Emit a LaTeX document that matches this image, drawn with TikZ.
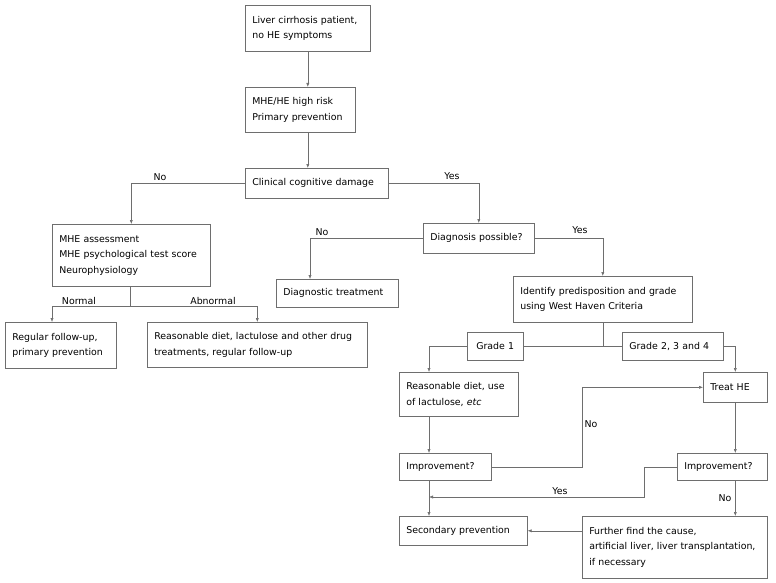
\documentclass[tikz,border=0pt]{standalone}
\usepackage{fontspec}
\setmainfont{DejaVu Sans}
\usetikzlibrary{arrows.meta}

\definecolor{linegray}{RGB}{110,110,110}

\tikzset{
    box/.style={draw=linegray, line width=0.6pt, anchor=north west, align=left,
        inner xsep=7pt, inner ysep=2pt, font=\fontsize{9.4}{15.5}\selectfont},
    lbl/.style={font=\fontsize{9.4}{11}\selectfont, inner sep=0pt},
    link/.style={draw=linegray, line width=0.6pt},
    arr/.style={link, -{Latex[length=4pt,width=3.2pt]}}
}

\begin{document}
\begin{tikzpicture}[x=1pt, y=-1pt]
        \fill[white] (0,0) rectangle (776,583);
        \useasboundingbox (0,0) rectangle (776,583);
        % ==== TOP ====
        \node[box, text width=111pt, minimum height=46pt] (liver) at (245,5) {Liver cirrhosis patient,\\no HE symptoms};
        \node[box, text width=96pt, minimum height=45pt] (risk) at (245,87) {MHE/HE high risk\\Primary prevention};
        \node[box, text width=129pt, minimum height=30pt] (clin) at (245,168) {Clinical cognitive damage};
        % ==== LEFT BRANCH ====
        \node[box, text width=144pt, minimum height=62pt] (mhe) at (52,224) {MHE assessment\\MHE psychological test score\\Neurophysiology};
        \node[box, text width=97pt, minimum height=46pt] (regular) at (5,322) {Regular follow-up,\\primary prevention};
        \node[box, text width=206pt, minimum height=45pt] (reason) at (147,322) {Reasonable diet, lactulose and other drug\\treatments, regular follow-up};
        % ==== RIGHT BRANCH ====
        \node[box, text width=97pt, minimum height=30pt] (diag) at (423,223) {Diagnosis possible?};
        \node[box, text width=108pt, minimum height=28pt] (diagtr) at (276,279) {Diagnostic treatment};
        \node[box, text width=165pt, minimum height=46pt] (ident) at (513,276) {Identify predisposition and grade\\using West Haven Criteria};
        \node[box, text width=42pt, minimum height=28pt] (grade1) at (467,332) {\hspace*{2pt}Grade 1};
        \node[box, text width=87pt, minimum height=28pt] (grade2) at (622,332) {Grade 2, 3 and 4};
        \node[box, text width=105pt, minimum height=44pt] (diet) at (399,372) {Reasonable diet, use\\of lactulose, \textit{etc}};
        \node[box, text width=50pt, minimum height=30pt] (treat) at (703,372) {Treat HE};
        \node[box, text width=78pt, minimum height=27pt] (impl) at (399,453) {Improvement?};
        \node[box, text width=76pt, minimum height=27pt] (impr) at (677,453) {Improvement?};
        \node[box, text width=114pt, minimum height=29pt] (second) at (399,516) {Secondary prevention};
        \node[box, text width=171pt, minimum height=62pt] (further) at (582,516) {Further find the cause,\\artificial liver, liver transplantation,\\if necessary};

        % ==== HELPER COORDINATES ====
        \coordinate (mhefork) at (130.5,306);
        \coordinate (nrm) at (52,306);
        \coordinate (dcol) at (310,0);
        \coordinate (lcol) at (429,0);
        \coordinate (ycorner) at (644,497);

        % ==== CONNECTORS ====
        \draw[arr] (liver.south) -- (liver.south |- risk.north);
        \draw[arr] (liver.south |- risk.south) -- (liver.south |- clin.north);
        \draw[arr] (clin.west) -| (mhe.north);
        \draw[arr] (clin.east) -| (diag.north);
        \draw[link] (mhefork |- mhe.south) -- (mhefork);
        \draw[arr] (mhefork) -- (nrm) -- (nrm |- regular.north);
        \draw[arr] (mhefork) -| (reason.north);
        \draw[arr] (diag.west) -| (dcol |- diagtr.north);
        \draw[arr] (diag.east) -| (ident.north);
        \draw[link] (ident.south) -- (ident.south |- grade1.east);
        \draw[link] (grade1.east) -- (grade2.west);
        \draw[arr] (grade1.west) -| (lcol |- diet.north);
        \draw[arr] (grade2.east) -| (treat.north);
        \draw[arr] (lcol |- diet.south) -- (lcol |- impl.north);
        \draw[arr] (impl.east) -- ++(91,0) |- (treat.west);
        \draw[arr] (treat.south) -- (treat.south |- impr.north);
        \draw[arr] (impr.west) -| (ycorner) -- (lcol |- ycorner);
        \draw[arr] (lcol |- impl.south) -- (lcol |- second.north);
        \draw[arr] (treat.south |- impr.south) -- (treat.south |- further.north);
        \draw[arr] (further.west |- second.east) -- (second.east);

        % ==== LABELS ====
        \node[lbl] (lno1) at (160,177) {No};
        \node[lbl] (lyes1) at (452,176) {Yes};
        \node[lbl] (lnormal) at (79,301) {Normal};
        \node[lbl] (labnormal) at (213,301) {Abnormal};
        \node[lbl] (lno2) at (322,232) {No};
        \node[lbl] (lyes2) at (580,230) {Yes};
        \node[lbl] (lno3) at (591,424) {No};
        \node[lbl] (lyes3) at (560,491) {Yes};
        \node[lbl] (lno4) at (725,498) {No};
\end{tikzpicture}
\end{document}
